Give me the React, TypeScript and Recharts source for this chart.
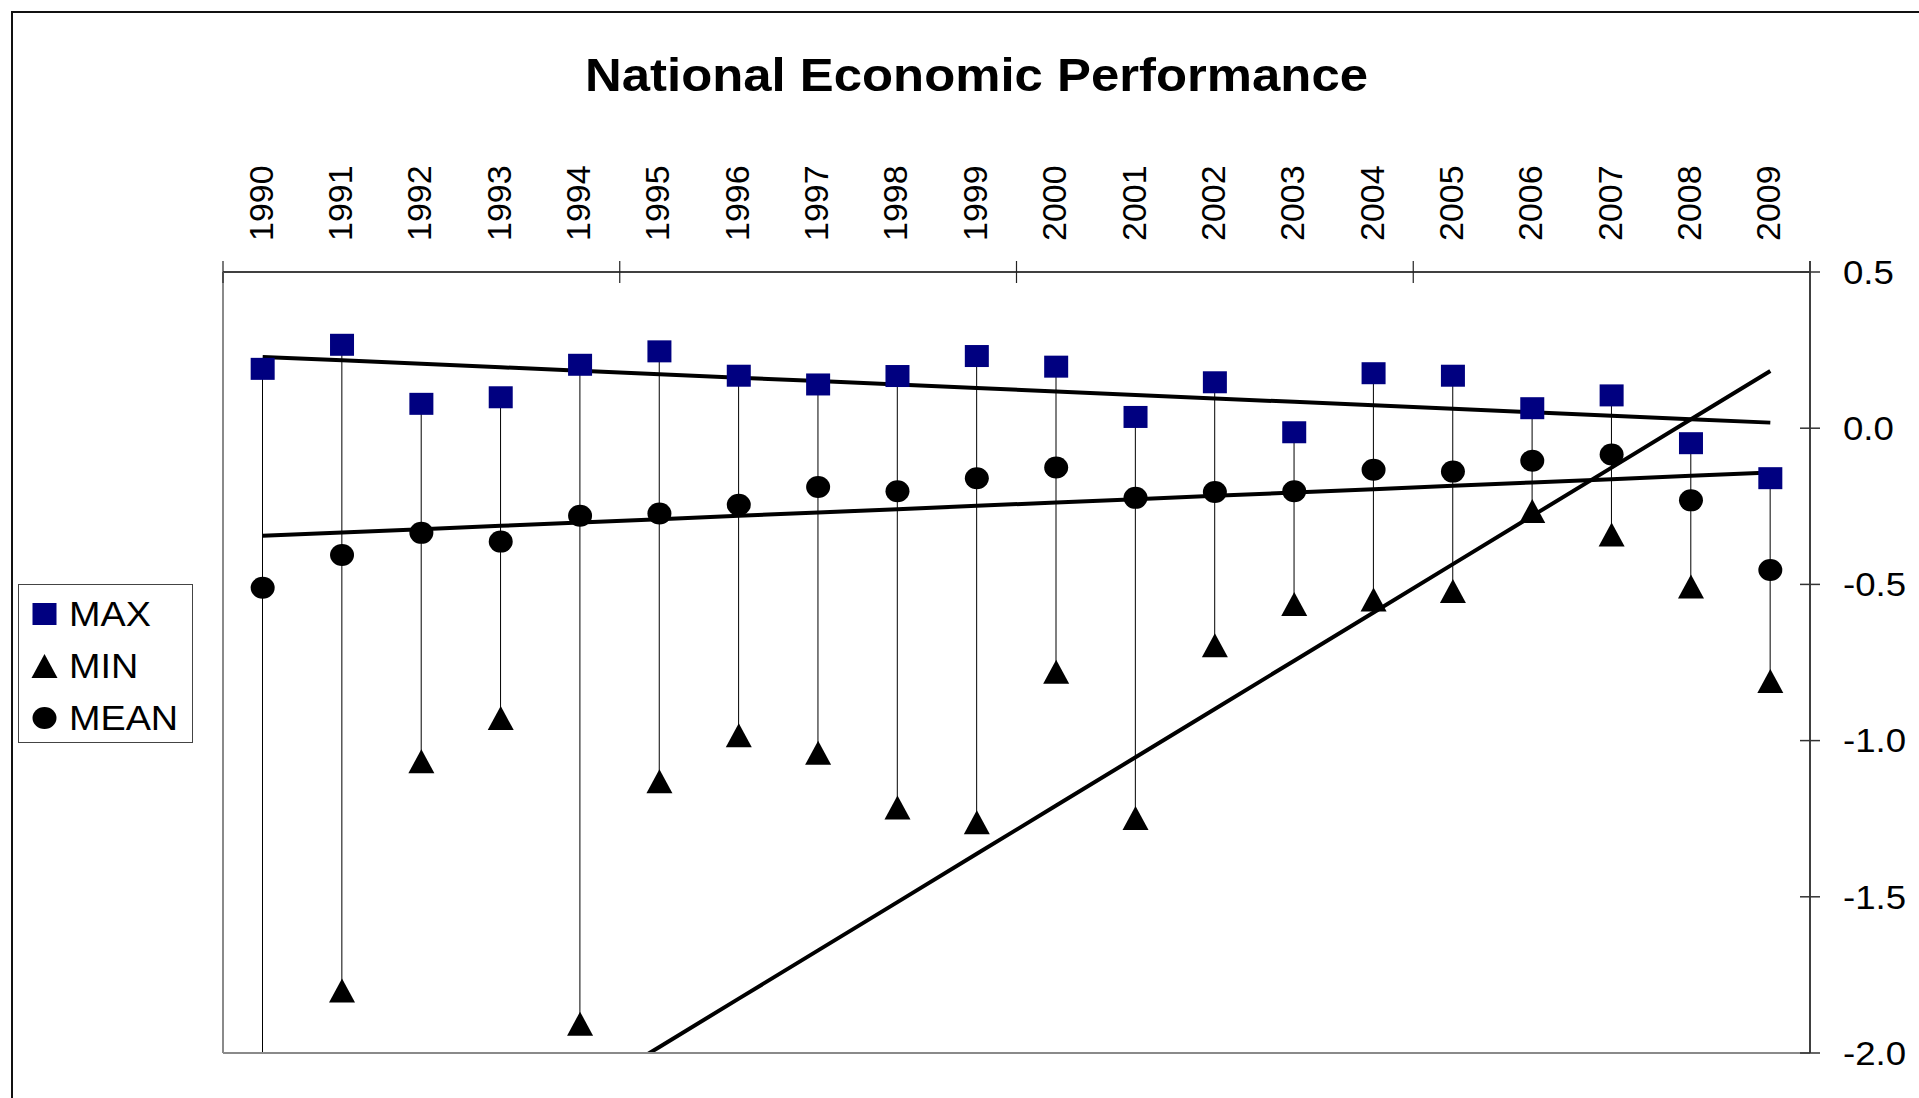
import { ComposedChart, Bar, Line, XAxis, YAxis, Legend } from 'recharts';

const years = ['1990', '1991', '1992', '1993', '1994', '1995', '1996', '1997', '1998', '1999',
    '2000', '2001', '2002', '2003', '2004', '2005', '2006', '2007', '2008', '2009'];

const maxVals = [0.19, 0.267, 0.078, 0.099, 0.203, 0.246, 0.168, 0.14, 0.167, 0.231,
    0.197, 0.036, 0.147, -0.013, 0.176, 0.168, 0.064, 0.105, -0.048, -0.16];

const minVals = [-8.1, -1.8, -1.066, -0.928, -1.906, -1.13, -0.983, -1.039, -1.214, -1.261,
    -0.78, -1.248, -0.695, -0.563, -0.548, -0.521, -0.265, -0.34, -0.507, -0.809];

const meanVals = [-0.511, -0.406, -0.335, -0.363, -0.28, -0.273, -0.245, -0.188, -0.202, -0.16,
    -0.126, -0.223, -0.204, -0.202, -0.133, -0.139, -0.104, -0.084, -0.231, -0.454];

const valueTicks = [-2.0, -1.5, -1.0, -0.5, 0.0, 0.5];

const seriesNames = ['MAX', 'MIN', 'MEAN'];

// least squares fit, like the Excel linear trendline
const linearFit = (vals: number[]) => {
    const n = vals.length;
    const mx = (n - 1) / 2;
    const my = vals.reduce((a, b) => a + b, 0) / n;
    let sxy = 0;
    let sxx = 0;
    vals.forEach((v, i) => {
        sxy += (i - mx) * (v - my);
        sxx += (i - mx) * (i - mx);
    });
    const slope = sxy / sxx;
    return vals.map((_, i) => my + slope * (i - mx));
};

const maxTrend = linearFit(maxVals);
const minTrend = linearFit(minVals);
const meanTrend = linearFit(meanVals);

const data = years.map((year, i) => ({
    year,
    max: maxVals[i],
    min: minVals[i],
    mean: meanVals[i],
    range: [minVals[i], maxVals[i]],
    maxTrend: maxTrend[i],
    minTrend: minTrend[i],
    meanTrend: meanTrend[i],
}));

const W = 1919;
const H = 1098;
const PLOT_LEFT = 223;
const AXIS_RIGHT_W = 109;
const AXIS_TOP_H = 272;
const BOTTOM = 45;
const BAND = (W - PLOT_LEFT - AXIS_RIGHT_W) / years.length;

const FONT = '"Liberation Sans", Arial, Helvetica, sans-serif';
const NAVY = '#000080';

const Square = ({ cx, cy }: { cx: number; cy: number }) => (
    <rect x={cx - 12} y={cy - 11} width={24} height={22} fill={NAVY} />
);
const Triangle = ({ cx, cy }: { cx: number; cy: number }) => (
    <polygon points={`${cx},${cy - 12} ${cx + 13},${cy + 12} ${cx - 13},${cy + 12}`} fill="#000" />
);
const Dot = ({ cx, cy }: { cx: number; cy: number }) => (
    <ellipse cx={cx} cy={cy} rx={12} ry={11} fill="#000" />
);

const markerFor = (name: string) =>
    name === 'MAX' ? Square : name === 'MIN' ? Triangle : Dot;

const YearTick = (props: any) => {
    const { x, y, payload, index } = props;
    const half = BAND / 2;
    return (
        <g>
            {index % 5 === 0 && (
                <line x1={x - half} x2={x - half} y1={y - 11} y2={y + 11} stroke="#222" strokeWidth={1.2} />
            )}
            {index === years.length - 1 && (
                <line x1={x + half} x2={x + half} y1={y - 11} y2={y} stroke="#404040" strokeWidth={2} />
            )}
            <text
                transform={`translate(${x - 2},${y - 31}) rotate(-90)`}
                x={0}
                y={12}
                fontSize={34}
                fontFamily={FONT}
                fill="#000"
            >
                {payload.value}
            </text>
        </g>
    );
};

const ValueTick = (props: any) => {
    const { x, y, payload } = props;
    return (
        <g>
            <line x1={x - 10} x2={x + 10} y1={y} y2={y} stroke="#333" strokeWidth={1.5} />
            <text
                transform={`translate(${x + 33},${y + 11.7}) scale(1.11,1)`}
                fontSize={33}
                fontFamily={FONT}
                fill="#000"
            >
                {Number(payload.value).toFixed(1)}
            </text>
        </g>
    );
};

const LegendBox = () => (
    <svg width={176} height={160} style={{ display: 'block' }}>
        <rect x={0.5} y={0.5} width={174} height={158} fill="#fff" stroke="#444" strokeWidth={1} />
        {seriesNames.map((name, i) => {
            const Marker = markerFor(name);
            const cy = 30 + i * 52;
            return (
                <g key={name}>
                    <Marker cx={26.5} cy={cy} />
                    <text
                        transform={`translate(51,${cy + 12}) scale(1.08,1)`}
                        fontSize={35}
                        fontFamily={FONT}
                        fill="#000"
                    >
                        {name}
                    </text>
                </g>
            );
        })}
    </svg>
);

export default function App() {
    return (
        <div style={{ position: 'absolute', left: 0, top: 0, width: W, height: H, background: '#fff', overflow: 'hidden' }}>
            {/* chart area frame, cut off on the right and bottom */}
            <div style={{ position: 'absolute', left: 11, top: 11, width: W, height: H, borderTop: '2px solid #111', borderLeft: '2px solid #111' }} />
            <svg width={W} height={120} style={{ position: 'absolute', left: 0, top: 0 }}>
                <text
                    transform="translate(976.5,91) scale(1.106,1)"
                    textAnchor="middle"
                    fontSize={46}
                    fontWeight="bold"
                    fontFamily={FONT}
                    fill="#000"
                >
                    National Economic Performance
                </text>
            </svg>
            <div style={{ position: 'absolute', left: 0, top: 0 }}>
                <ComposedChart
                    width={W}
                    height={H}
                    data={data}
                    margin={{ top: 0, right: 0, bottom: BOTTOM - 1, left: PLOT_LEFT - 1 }}
                >
                    <XAxis
                        dataKey="year"
                        orientation="top"
                        height={AXIS_TOP_H}
                        interval={0}
                        tickSize={0}
                        tickMargin={0}
                        tickLine={false}
                        tick={<YearTick />}
                        axisLine={{ stroke: '#404040', strokeWidth: 2.2 }}
                    />
                    {/* plot area border, bottom and left */}
                    <XAxis
                        xAxisId="bottom"
                        dataKey="year"
                        orientation="bottom"
                        height={1}
                        tick={false}
                        tickLine={false}
                        axisLine={{ stroke: '#8a8a8a', strokeWidth: 2 }}
                    />
                    <YAxis
                        orientation="right"
                        width={AXIS_RIGHT_W}
                        domain={[-2, 0.5]}
                        ticks={valueTicks}
                        interval={0}
                        allowDataOverflow
                        tickSize={0}
                        tickMargin={0}
                        tickLine={false}
                        tick={<ValueTick />}
                        axisLine={{ stroke: '#404040', strokeWidth: 2 }}
                    />
                    <YAxis
                        yAxisId="left"
                        orientation="left"
                        width={1}
                        domain={[-2, 0.5]}
                        tick={false}
                        tickLine={false}
                        axisLine={{ stroke: '#8a8a8a', strokeWidth: 2 }}
                    />
                    <Legend
                        layout="vertical"
                        align="center"
                        verticalAlign="middle"
                        wrapperStyle={{ left: 18, top: 584, width: 176, height: 160 }}
                        content={() => <LegendBox />}
                    />

                    {/* high-low lines */}
                    <Bar dataKey="range" barSize={1} fill="#000" isAnimationActive={false} legendType="none" />

                    <Line dataKey="max" stroke="none" isAnimationActive={false}
                        dot={(p: any) => <Square key={`mx${p.index}`} cx={p.cx} cy={p.cy} />} activeDot={false} />
                    <Line dataKey="min" stroke="none" isAnimationActive={false}
                        dot={(p: any) => <Triangle key={`mn${p.index}`} cx={p.cx} cy={p.cy} />} activeDot={false} />
                    <Line dataKey="mean" stroke="none" isAnimationActive={false}
                        dot={(p: any) => <Dot key={`me${p.index}`} cx={p.cx} cy={p.cy} />} activeDot={false} />

                    <Line dataKey="maxTrend" type="linear" stroke="#000" strokeWidth={4} dot={false} activeDot={false} isAnimationActive={false} legendType="none" />
                    <Line dataKey="minTrend" type="linear" stroke="#000" strokeWidth={4} dot={false} activeDot={false} isAnimationActive={false} legendType="none" />
                    <Line dataKey="meanTrend" type="linear" stroke="#000" strokeWidth={4} dot={false} activeDot={false} isAnimationActive={false} legendType="none" />
                </ComposedChart>
            </div>
        </div>
    );
}
